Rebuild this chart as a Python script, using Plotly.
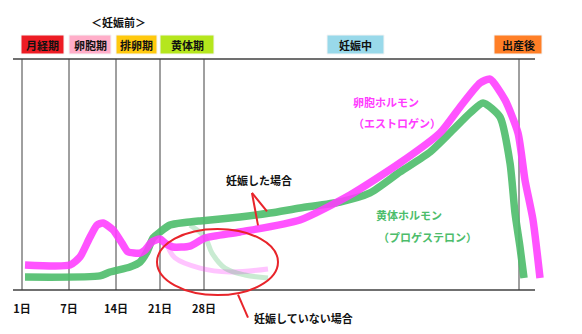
import plotly.graph_objects as go

# timeline coordinate (chart units) and hormone level (0 = baseline, 100 = top line)
estro_x = [25, 70, 80, 90, 97, 103, 113, 122, 128, 140, 145, 152, 160, 165, 173, 190, 205, 240, 300, 350, 400, 440, 460, 480, 490, 505, 518, 525, 533, 540]
estro_y = [10.8, 10.8, 14.3, 22.9, 28.1, 29.0, 26.0, 20.3, 16.5, 16.0, 17.3, 20.8, 22.1, 20.3, 18.6, 19.0, 22.5, 25.1, 30.3, 41.1, 55.0, 68.0, 79.2, 89.6, 91.3, 82.3, 68.0, 47.6, 30.3, 5.2]

prog_x = [25, 100, 110, 130, 140, 147, 153, 160, 170, 185, 200, 240, 270, 300, 340, 370, 400, 430, 450, 470, 483, 500, 510, 515, 520, 524]
prog_y = [5.6, 6.1, 7.8, 10.0, 12.1, 16.5, 22.5, 25.1, 28.1, 29.2, 29.9, 31.6, 33.3, 35.5, 38.1, 42.0, 51.1, 59.7, 68.0, 76.6, 81.0, 74.9, 55.0, 33.3, 18.6, 5.2]

estro_np_x = [168, 175, 200, 230, 268]
estro_np_y = [18.6, 13.9, 9.5, 7.8, 9.1]
prog_np_x = [190, 205, 212, 225, 245, 268]
prog_np_y = [28.1, 22.9, 16.0, 9.5, 6.5, 5.2]

tick_pos = [22, 69, 116, 160, 204]
tick_text = ["1日", "7日", "14日", "21日", "28日"]
divider_pos = [22, 69, 116, 160, 204, 519]

phase_labels = ["月経期", "卵胞期", "排卵期", "黄体期", "妊娠中", "出産後"]
phase_x0 = [21, 69, 116, 160, 327, 494]
phase_x1 = [64, 111, 157, 214, 384, 542]
phase_colors = ["#ed1c24", "#ffaec9", "#ffc90e", "#b5e61d", "#99d9ea", "#ff7f27"]

MAG = "#ff3cff"
GRN = "#4dbd6b"
FONT = "Noto Sans CJK JP"

fig = go.Figure()
fig.add_trace(go.Scatter(x=estro_np_x, y=estro_np_y, mode="lines", line=dict(color="rgba(255,60,255,0.3)", width=5, shape="spline"), hoverinfo="skip"))
fig.add_trace(go.Scatter(x=prog_np_x, y=prog_np_y, mode="lines", line=dict(color="rgba(77,189,107,0.3)", width=5, shape="spline"), hoverinfo="skip"))
fig.add_trace(go.Scatter(x=prog_x, y=prog_y, mode="lines", line=dict(color=GRN, width=7.5, shape="spline", smoothing=0.6), opacity=0.9, hoverinfo="skip"))
fig.add_trace(go.Scatter(x=estro_x, y=estro_y, mode="lines", line=dict(color=MAG, width=7.5, shape="spline", smoothing=0.6), opacity=0.88, hoverinfo="skip"))

shapes = []
shapes.append(dict(type="line", x0=13, x1=535, y0=100, y1=100, line=dict(color="#707070", width=2), layer="below"))
shapes.append(dict(type="line", x0=13, x1=535, y0=0, y1=0, line=dict(color="#404040", width=1.5), layer="below"))
for p in divider_pos:
    shapes.append(dict(type="line", x0=p, x1=p, y0=0, y1=100, line=dict(color="#404040", width=1), layer="below"))
for x0, x1, c in zip(phase_x0, phase_x1, phase_colors):
    shapes.append(dict(type="rect", xref="x", yref="paper", x0=x0, x1=x1, y0=1 - 54 / 334, y1=1 - 35 / 334,
                       fillcolor=c, line=dict(color="#f4f4f4", width=1)))
# red ellipse and callouts
shapes.append(dict(type="circle", x0=157, x1=278, y0=-2.2, y1=26.4, line=dict(color="#e8242a", width=2)))
shapes.append(dict(type="line", x0=238, x1=248, y0=-2.0, y1=-12.0, line=dict(color="#e8242a", width=2)))
shapes.append(dict(type="line", x0=252, x1=267, y0=42.0, y1=34.0, line=dict(color="#e8242a", width=2)))
shapes.append(dict(type="line", x0=252, x1=258, y0=42.0, y1=28.0, line=dict(color="#e8242a", width=2)))

ann = []
def label(text, x, py, color, size=11):
    ann.append(dict(x=x, y=1 - py / 334, xref="x", yref="paper", text="<b>" + text + "</b>",
                    showarrow=False, xanchor="center", yanchor="middle",
                    font=dict(family=FONT, size=size, color=color)))

for lbl, x0, x1 in zip(phase_labels, phase_x0, phase_x1):
    label(lbl, (x0 + x1) / 2, 44.5, "#111")
label("＜妊娠前＞", 118, 22, "#111")
txt = [
    ("卵胞ホルモン", 386, 102, MAG),
    ("（エストロゲン）", 397, 123, MAG),
    ("黄体ホルモン", 409, 215, GRN),
    ("（プロゲステロン）", 427, 237, GRN),
    ("妊娠した場合", 259, 180, "#111"),
    ("妊娠していない場合", 303, 318, "#111"),
]
for t, x, py, c in txt:
    label(t, x, py, c)

top_level = (290 - 0) / 231 * 100
bot_level = (290 - 334) / 231 * 100

fig.update_layout(
    width=582, height=334, margin=dict(l=0, r=0, t=0, b=0),
    paper_bgcolor="white", plot_bgcolor="white", showlegend=False,
    shapes=shapes, annotations=ann,
    xaxis=dict(range=[0, 582], showgrid=False, zeroline=False, showline=False,
               tickvals=tick_pos, ticktext=["<b>" + t + "</b>" for t in tick_text],
               ticks="outside", ticklen=9, tickcolor="rgba(0,0,0,0)",
               tickfont=dict(family=FONT, size=11, color="#111"),
               anchor="free", position=(334 - 290) / 334),
    yaxis=dict(range=[bot_level, top_level], visible=False),
)
fig.write_html("out.html")
